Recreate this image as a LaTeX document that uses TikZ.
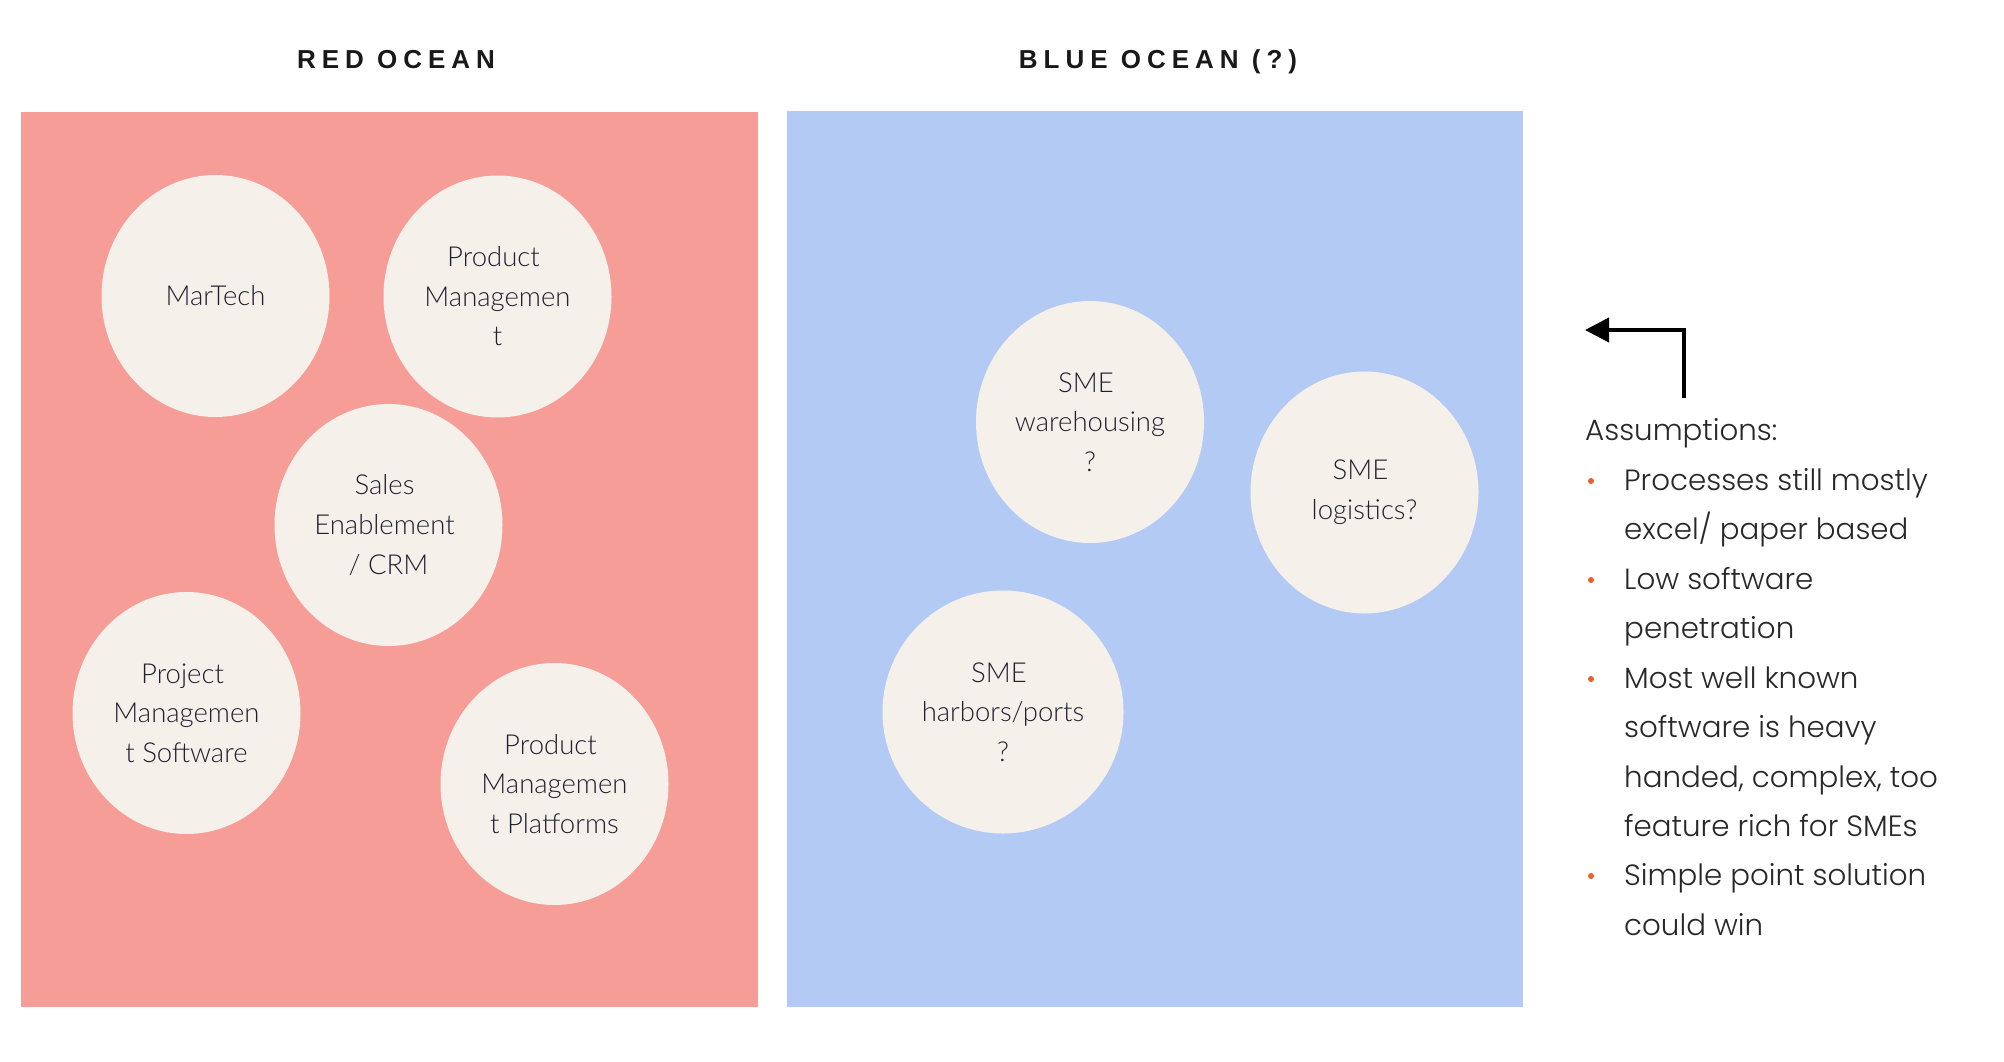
\documentclass[tikz,border=0pt]{standalone}
\usepackage{fontspec}
\setmainfont{Lato}
\newfontfamily\circfont{Lato Light}
\newfontfamily\notefont{Poppins Light}
\newfontfamily\titlefont{Liberation Sans Bold}[LetterSpace=23]
\usetikzlibrary{shapes.geometric,arrows.meta}
\definecolor{redbg}{RGB}{245,157,150}
\definecolor{bluebg}{RGB}{179,202,245}
\definecolor{circ}{RGB}{245,241,234}
\definecolor{ink}{RGB}{32,32,48}
\definecolor{dot}{RGB}{232,96,44}
\definecolor{notec}{RGB}{40,40,40}
\newcommand\tsp{\hbox to 8pt{}}
\tikzset{
  panel/.style={draw=none, anchor=north west, inner sep=0, outer sep=0},
  bubble/.style={ellipse, fill=circ, draw=none, minimum width=228, minimum height=242, inner sep=0, align=center, text=ink, font=\circfont\fontsize{27.5}{39.6}\selectfont},
  title/.style={anchor=base, text=black!90, font=\titlefont\fontsize{26}{30}\selectfont, inner sep=0},
  note/.style={anchor=base west, text=notec, inner sep=0, font=\notefont\fontsize{29.3}{36}\selectfont},
  bulletdot/.style={circle, fill=dot, inner sep=0, minimum size=6},
}
\begin{document}
\begin{tikzpicture}[x=1pt,y=-1pt]
\useasboundingbox (0,0) rectangle (2004,1062);
\fill[white] (0,0) rectangle (2004,1062);
% titles
\node[title] (tred) at (396,69) {RED OCEAN};
\node[title] (tblue) at (1158,69) {BLUE OCEAN (?)};
% panels
\node[panel, fill=redbg, minimum width=737.5, minimum height=894.5] (red) at (20.5,112.5) {};
\node[panel, fill=bluebg, minimum width=736, minimum height=896] (blue) at (787,111) {};
% red ocean bubbles
\node[bubble] (mar) at (215.5,296) {MarTech};
\node[bubble] (pm) at (497.5,296.5) {Product\tsp\\Managemen\\t};
\node[bubble] (sales) at (388.5,525) {Sales\tsp\\Enablement\tsp\\/ CRM};
\node[bubble] (proj) at (186.5,713) {Project\tsp\\Managemen\\t Software};
\node[bubble] (pmp) at (554.5,784) {Product\tsp\\Managemen\\t Platforms};
% blue ocean bubbles
\node[bubble] (ware) at (1090,422) {SME\tsp\\warehousing\\?};
\node[bubble] (logi) at (1364.5,492.5) {SME\tsp\\logistics?};
\node[bubble, minimum width=241, minimum height=243] (harb) at (1003,712) {SME\tsp\\harbors/ports\\?};
% arrow
\coordinate (ab) at (1684,397.5);
\coordinate (at) at (1585,330);
\draw[line width=4, -{Triangle[length=24pt,width=24pt]}] (ab) |- (at);
% assumptions
\node[note] (ass) at (1585,440) {Assumptions:};
\node[note] (l1) at (1624,490) {Processes still mostly};
\node[note] (l2) at (1624,539) {excel/ paper based};
\node[note] (l3) at (1624,589) {Low software};
\node[note] (l4) at (1624,638) {penetration};
\node[note] (l5) at (1624,688) {Most well known};
\node[note] (l6) at (1624,737) {software is heavy};
\node[note] (l7) at (1624,787) {handed, complex, too};
\node[note] (l8) at (1624,836) {feature rich for SMEs};
\node[note] (l9) at (1624,885) {Simple point solution};
\node[note] (l10) at (1624,935) {could win};
\node[bulletdot] (b1) at (1591,481) {};
\node[bulletdot] (b2) at (1591,580) {};
\node[bulletdot] (b3) at (1591,679) {};
\node[bulletdot] (b4) at (1591,876) {};
\end{tikzpicture}
\end{document}
